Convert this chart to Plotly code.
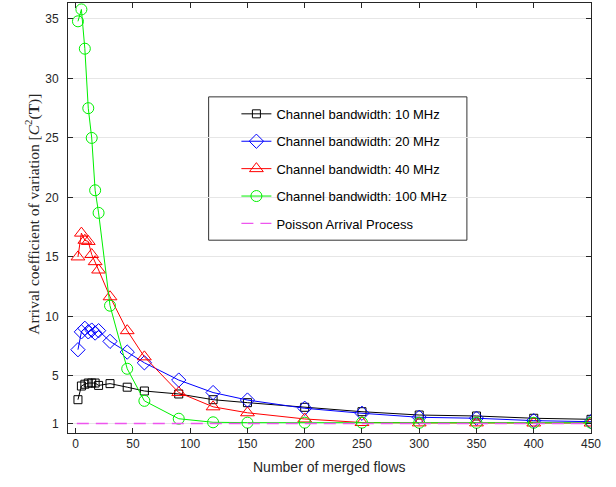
import plotly.graph_objects as go

flows = [2, 5, 8, 11, 14, 17, 20, 30, 45, 60, 90, 120, 150, 200, 250, 300, 350, 400, 450]

bw10 = [3.0, 4.15, 4.3, 4.4, 4.4, 4.4, 4.2, 4.35, 4.05, 3.73, 3.48, 3.0, 2.75, 2.36, 1.99, 1.71, 1.63, 1.44, 1.35]
bw20 = [7.2, 8.7, 9.0, 8.7, 8.85, 8.6, 8.8, 7.9, 7.0, 6.1, 4.65, 3.6, 2.97, 2.28, 1.86, 1.52, 1.44, 1.24, 1.15]
bw40 = [15.0, 17.0, 16.4, 16.3, 15.2, 14.6, 13.9, 11.65, 8.8, 6.6, 3.6, 2.4, 1.9, 1.38, 1.08, 1.05, 1.05, 1.04, 1.04]
bw100 = [34.8, 35.8, 32.5, 27.5, 25.0, 20.6, 18.7, 10.9, 5.6, 2.9, 1.4, 1.1, 1.07, 1.07, 1.07, 1.06, 1.06, 1.06, 1.06]

poisson_x = [1, 450]
poisson_y = [1, 1]

names = ["Channel bandwidth: 10 MHz", "Channel bandwidth: 20 MHz",
         "Channel bandwidth: 40 MHz", "Channel bandwidth: 100 MHz",
         "Poisson Arrival Process"]

x_ticks = [0, 50, 100, 150, 200, 250, 300, 350, 400, 450]
y_ticks = [1, 5, 10, 15, 20, 25, 30, 35]

x_title = "Number of merged flows"
y_title = "Arrival coefficient of variation [<i>C</i><sup>2</sup>(<b>T</b>)]"

fig = go.Figure()

series = [
    (bw10, "#000000", "square-open", 8),
    (bw20, "#0000ff", "diamond-open", 11),
    (bw40, "#ff0000", "triangle-up-open", 12),
    (bw100, "#00f000", "circle-open", 11),
]
for i, (vals, col, sym, sz) in enumerate(series):
    fig.add_trace(go.Scatter(
        x=flows, y=vals, mode="lines+markers", name=names[i],
        line=dict(color=col, width=1),
        marker=dict(symbol=sym, size=sz, color=col, line=dict(width=1, color=col)),
        legendgroup=str(i),
    ))

fig.add_trace(go.Scatter(
    x=poisson_x, y=poisson_y, mode="lines", name=names[4],
    line=dict(color="#ee55ee", width=1.3, dash="12px,7px"),
    legendgroup="4",
))

fig.add_shape(type="rect", xref="paper", yref="paper",
              x0=0.2689, x1=0.7627, y0=0.4484, y1=0.7817,
              line=dict(color="#333333", width=1), fillcolor="white", layer="between")

fig.add_annotation(text=x_title, xref="paper", yref="paper", x=0.5, y=-0.08,
                   xanchor="center", yanchor="middle", showarrow=False,
                   font=dict(family="Liberation Sans, Arial", size=14, color="#262626"))
fig.add_annotation(text=y_title, xref="paper", yref="paper", x=-0.067, y=0.51,
                   xanchor="center", yanchor="middle", showarrow=False, textangle=-90,
                   font=dict(family="Liberation Serif, DejaVu Serif", size=15.5, color="#262626"))

axis_common = dict(
    showline=True, linecolor="#262626", linewidth=1, mirror="allticks",
    ticks="inside", ticklen=5, tickcolor="#262626", automargin=False,
    tickfont=dict(family="Liberation Sans, Arial", size=12, color="#262626"),
    zeroline=False,
)

fig.update_layout(
    width=616, height=487,
    margin=dict(l=68, r=25, t=3, b=54, autoexpand=False),
    paper_bgcolor="white", plot_bgcolor="white",
    showlegend=True,
    legend=dict(
        x=0.322, y=0.777, xanchor="left", yanchor="top",
        bgcolor="rgba(0,0,0,0)", borderwidth=0,
        font=dict(family="Liberation Sans, Arial", size=13, color="#000000"),
        tracegroupgap=7.5,
    ),
    xaxis=dict(range=[-6.7, 450], tickvals=x_ticks, showgrid=False, **axis_common),
    yaxis=dict(range=[0.2, 36.34], tickvals=y_ticks, showgrid=True,
               gridcolor="#e6e6e6", gridwidth=1, ticklabelstandoff=6, **axis_common),
)

fig.write_html("out.html", config={"displayModeBar": False},
               post_script="document.body.style.margin='0';document.body.style.padding='0';")
